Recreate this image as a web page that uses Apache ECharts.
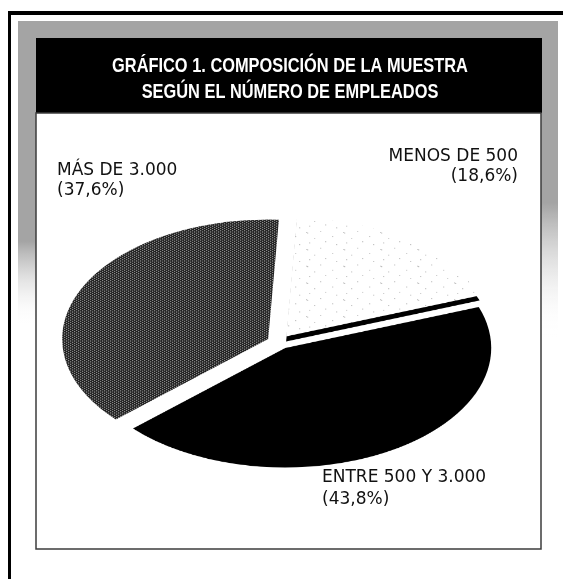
<!DOCTYPE html>
<html><head><meta charset="utf-8">
<script src="https://cdn.jsdelivr.net/npm/echarts@6/dist/echarts.min.js"></script>
<style>
html,body{margin:0;padding:0;width:563px;height:579px;overflow:hidden;background:#fff;}
#bg{position:absolute;left:0;top:0;width:563px;height:579px;}
#pieWrap{position:absolute;left:0;top:0;width:563px;height:579px;overflow:hidden;}
#pie{position:absolute;left:0;top:0;width:563px;height:860px;transform-origin:0 0;}
</style></head><body>
<div id="bg"></div><div id="pieWrap"><div id="pie"></div></div>
<script>
// ---- data ----
const categories = ['MENOS DE 500', 'ENTRE 500 Y 3.000', 'MÁS DE 3.000'];
const values = [18.6, 43.8, 37.6];
const titleLines = ['GRÁFICO 1. COMPOSICIÓN DE LA MUESTRA', 'SEGÚN EL NÚMERO DE EMPLEADOS'];

// ---- layout / style ----
const K = 0.58;               // vertical squash of the tilted pie
const CX = 279, CY = 342;     // pie centre on page
const R = 206;                // horizontal radius
const SIDE = 5;               // thickness of the pie edge
const labelPos = [
  {x: 518, y: 157, align: 'right', gap: 20},
  {x: 322, y: 478, align: 'left', gap: 22},
  {x: 57,  y: 171, align: 'left', gap: 20}
];
const labelFont = '17px "DejaVu Sans", sans-serif';
const titleFont = 'bold 21px "Liberation Sans", Arial, sans-serif';

function pct(v){ return '(' + v.toFixed(1).replace('.', ',') + '%)'; }

function makePattern(w, h, base, dot, dots){
  const c = document.createElement('canvas'); c.width = w; c.height = h;
  const g = c.getContext('2d'); g.fillStyle = base; g.fillRect(0,0,w,h);
  g.fillStyle = dot; dots.forEach(p => g.fillRect(p[0], p[1], 1, 1));
  return {image: c, repeat: 'repeat'};
}
const grayFill = makePattern(4, 4, '#1e1e1e', '#a8a8a8', [[1,0],[1,1],[3,2],[3,3]]);
const lightFill = makePattern(37, 29, '#ffffff', '#8a8a8a', [[3,4],[4,5],[17,2],[11,14],[29,11],[6,22],[22,20],[33,25]]);
const fills = [lightFill, '#000000', grayFill];
const sideFills = ['#000000', 'rgba(0,0,0,0)', 'rgba(0,0,0,0)'];

// ---- background, frame, title, labels ----
const bg = echarts.init(document.getElementById('bg'), null, {renderer: 'canvas'});
const halftone = '#a4a4a4';
const graphics = [
  {type:'rect', shape:{x:8,y:11,width:555,height:4}, style:{fill:'#000'}},
  {type:'rect', shape:{x:8,y:11,width:3,height:568}, style:{fill:'#000'}},
  {type:'rect', shape:{x:18,y:21,width:540,height:17}, style:{fill:halftone}},
  {type:'rect', shape:{x:18,y:38,width:18,height:290}, style:{fill:new echarts.graphic.LinearGradient(0,0,0,1,[
    {offset:0,color:halftone},{offset:0.7,color:halftone},{offset:1,color:'rgba(255,255,255,0)'}])}},
  {type:'rect', shape:{x:541,y:38,width:17,height:300}, style:{fill:new echarts.graphic.LinearGradient(0,0,0,1,[
    {offset:0,color:halftone},{offset:0.55,color:halftone},{offset:1,color:'rgba(255,255,255,0)'}])}},
  {type:'rect', shape:{x:36,y:38,width:506,height:75}, style:{fill:'#000'}},
  {type:'rect', shape:{x:36,y:113,width:505,height:436}, style:{fill:'#fff', stroke:'#3c3c3c', lineWidth:1.5}}
];
titleLines.forEach((t, i) => graphics.push({type:'text', x:290, y:66 + i*26, scaleX:0.78,
  style:{text:t, x:0, y:0, align:'center', verticalAlign:'middle', font:titleFont, fill:'#fff'}}));
categories.forEach((c, i) => {
  const p = labelPos[i];
  graphics.push({type:'text', style:{text:c, x:p.x, y:p.y, align:p.align, verticalAlign:'middle', font:labelFont, fill:'#111'}});
  graphics.push({type:'text', style:{text:pct(values[i]), x:p.x, y:p.y + p.gap, align:p.align, verticalAlign:'middle', font:labelFont, fill:'#111'}});
});
bg.setOption({animation:false, graphic: graphics});

// ---- tilted pie ----
const pieDiv = document.getElementById('pie');
pieDiv.style.transform = 'scaleY(' + K + ')';
const pie = echarts.init(pieDiv, null, {renderer: 'canvas'});
function pieSeries(colors, dy, z){
  return {
    type: 'pie', z: z, silent: true,
    center: [CX, (CY + dy) / K], radius: [0, R],
    startAngle: 87, clockwise: true,
    selectedMode: 'multiple', selectedOffset: 12,
    label: {show: false}, labelLine: {show: false},
    emphasis: {disabled: true},
    itemStyle: {borderWidth: 0},
    data: categories.map((c, i) => ({name: c, value: values[i], selected: true,
      itemStyle: {color: colors[i], borderWidth: 0}}))
  };
}
pie.setOption({animation: false, backgroundColor: 'transparent',
  series: [pieSeries(sideFills, SIDE, 1), pieSeries(fills, 0, 2)]});
</script>
</body></html>
